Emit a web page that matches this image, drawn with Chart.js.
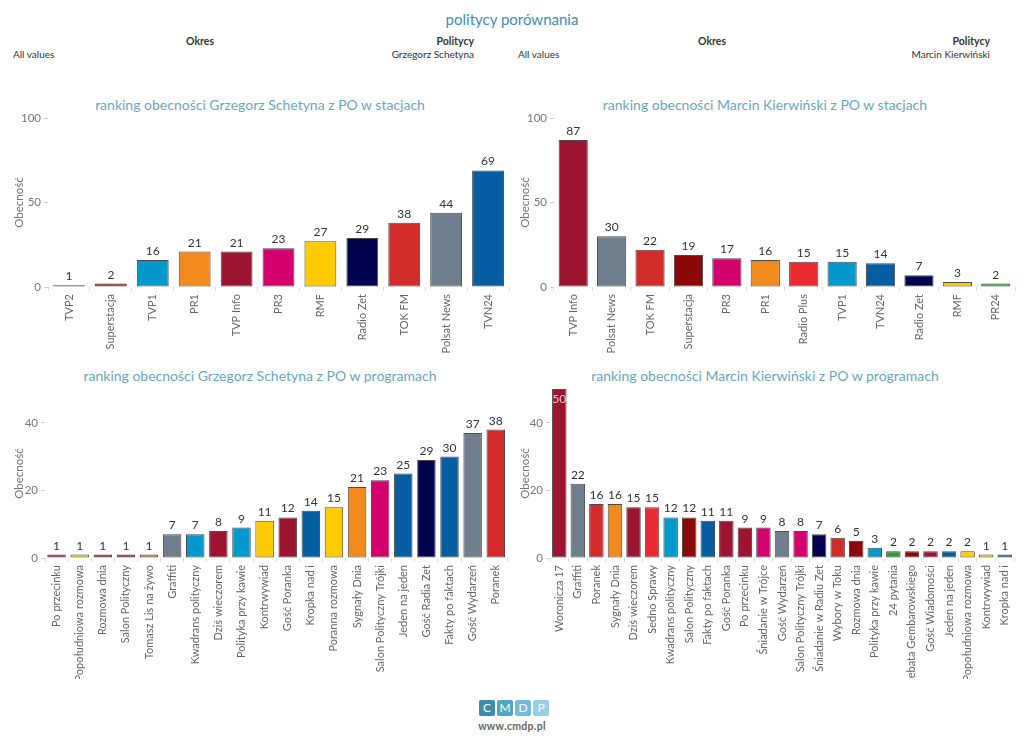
<!DOCTYPE html>
<html>
<head>
<meta charset="utf-8">
<script src="https://cdn.jsdelivr.net/npm/chart.js@4/dist/chart.umd.min.js"></script>
<style>
  body { margin: 0; background: #fff; font-family: Lato, sans-serif; }
  #page { position: relative; width: 1024px; height: 745px; overflow: hidden; }
  .abs { position: absolute; white-space: nowrap; }
  .main-title { left: 0; width: 1024px; top: 10px; text-align: center; font-size: 15px; color: #3d8fb5; }
  .hdr { font-size: 10.5px; font-weight: bold; color: #333; }
  .val { font-size: 10px; color: #333; }
  .ctitle { font-size: 14px; color: #6aa7bd; text-align: center; width: 512px; }
  canvas { position: absolute; }
  .logo { left: 479px; top: 700px; display: flex; gap: 2px; }
  .logo span { display: block; width: 16px; height: 16px; color: #fff; font-size: 12px; text-align: center; line-height: 16px; border-radius: 2px; }
  .www { left: 0; width: 1024px; top: 720px; text-align: center; font-size: 10.5px; font-weight: bold; color: #666; letter-spacing: 0.3px; }
</style>
</head>
<body>
<div id="page">
  <div class="abs main-title">politycy porównania</div>

  <div class="abs hdr" style="left:186px;top:35px;">Okres</div>
  <div class="abs val" style="left:13px;top:48px;">All values</div>
  <div class="abs hdr" style="right:550px;top:35px;">Politycy</div>
  <div class="abs val" style="right:550px;top:48px;">Grzegorz Schetyna</div>

  <div class="abs hdr" style="left:698px;top:35px;">Okres</div>
  <div class="abs val" style="left:518px;top:48px;">All values</div>
  <div class="abs hdr" style="right:34px;top:35px;">Politycy</div>
  <div class="abs val" style="right:34px;top:48px;">Marcin Kierwiński</div>

  <div class="abs ctitle" style="left:4px;top:96px;">ranking obecności Grzegorz Schetyna z PO w stacjach</div>
  <div class="abs ctitle" style="left:509px;top:96px;">ranking obecności Marcin Kierwiński z PO w stacjach</div>
  <div class="abs ctitle" style="left:4px;top:367px;">ranking obecności Grzegorz Schetyna z PO w programach</div>
  <div class="abs ctitle" style="left:509px;top:367px;">ranking obecności Marcin Kierwiński z PO w programach</div>

  <canvas id="c1" width="512" height="260" style="left:0;top:108px;"></canvas>
  <canvas id="c2" width="512" height="260" style="left:512px;top:108px;"></canvas>
  <canvas id="c3" width="512" height="300" style="left:0;top:379px;"></canvas>
  <canvas id="c4" width="512" height="300" style="left:512px;top:379px;"></canvas>

  <div class="abs logo">
    <span style="background:#3c8dab;">C</span>
    <span style="background:#56a4c3;">M</span>
    <span style="background:#74badb;">D</span>
    <span style="background:#97cfe9;">P</span>
  </div>
  <div class="abs www">www.cmdp.pl</div>
</div>

<script>
// stacje - Schetyna
const stationsSchetyna = ["TVP2", "Superstacja", "TVP1", "PR1", "TVP Info", "PR3", "RMF", "Radio Zet", "TOK FM", "Polsat News", "TVN24"];
const stationValuesSchetyna = [1, 2, 16, 21, 21, 23, 27, 29, 38, 44, 69];

// stacje - Kierwiński
const stationsKierwinski = ["TVP Info", "Polsat News", "TOK FM", "Superstacja", "PR3", "PR1", "Radio Plus", "TVP1", "TVN24", "Radio Zet", "RMF", "PR24"];
const stationValuesKierwinski = [87, 30, 22, 19, 17, 16, 15, 15, 14, 7, 3, 2];

// programy - Schetyna
const programsSchetyna = ["Po przecinku", "Popołudniowa rozmowa", "Rozmowa dnia", "Salon Polityczny", "Tomasz Lis na żywo", "Graffiti", "Kwadrans polityczny", "Dziś wieczorem", "Polityka przy kawie", "Kontrwywiad", "Gość Poranka", "Kropka nad i", "Poranna rozmowa", "Sygnały Dnia", "Salon Polityczny Trójki", "Jeden na jeden", "Gość Radia Zet", "Fakty po faktach", "Gość Wydarzeń", "Poranek"];
const programValuesSchetyna = [1, 1, 1, 1, 1, 7, 7, 8, 9, 11, 12, 14, 15, 21, 23, 25, 29, 30, 37, 38];

// programy - Kierwiński
const programsKierwinski = ["Woronicza 17", "Graffiti", "Poranek", "Sygnały Dnia", "Dziś wieczorem", "Sedno Sprawy", "Kwadrans polityczny", "Salon Polityczny", "Fakty po faktach", "Gość Poranka", "Po przecinku", "Śniadanie w Trójce", "Gość Wydarzeń", "Salon Polityczny Trójki", "Śniadanie w Radiu Zet", "Wybory w Toku", "Rozmowa dnia", "Polityka przy kawie", "24 pytania", "Debata Gembarowskiego", "Gość Wiadomości", "Jeden na jeden", "Popołudniowa rozmowa", "Kontrwywiad", "Kropka nad i"];
const programValuesKierwinski = [50, 22, 16, 16, 15, 15, 12, 12, 11, 11, 9, 9, 8, 8, 7, 6, 5, 3, 2, 2, 2, 2, 2, 1, 1];

// kolory stacji
const crimson = "#9c1430", darkRed = "#8d0909", red = "#d32a2a", brightRed = "#ea2b31",
      orange = "#f28b1f", tvp2 = "#d06a2c", yellow = "#fecb00", lightBlue = "#0399cc",
      blue = "#045ea1", navy = "#03034f", magenta = "#d4006d", gray = "#6f7f8e", green = "#2c9a35";

const colors1 = [tvp2, darkRed, lightBlue, orange, crimson, magenta, yellow, navy, red, gray, blue];
const colors2 = [crimson, gray, red, darkRed, magenta, orange, brightRed, lightBlue, blue, navy, yellow, green];
const colors3 = [crimson, yellow, darkRed, darkRed, tvp2, gray, lightBlue, crimson, lightBlue, yellow, crimson, blue, yellow, orange, magenta, blue, navy, blue, gray, red];
const colors4 = [crimson, gray, red, orange, crimson, brightRed, lightBlue, darkRed, blue, crimson, crimson, magenta, gray, magenta, navy, red, darkRed, lightBlue, green, darkRed, crimson, blue, yellow, yellow, blue];

const FONT = 'Lato, sans-serif';

// wartości nad słupkami
const valueLabels = {
  id: "valueLabels",
  afterDatasetsDraw(chart) {
    const ctx = chart.ctx;
    const meta = chart.getDatasetMeta(0);
    const data = chart.data.datasets[0].data;
    ctx.save();
    ctx.font = "12px " + FONT;
    ctx.textAlign = "center";
    ctx.textBaseline = "alphabetic";
    meta.data.forEach((bar, i) => {
      let y = bar.y - 5;
      ctx.fillStyle = "#333";
      if (y - 11 < chart.chartArea.top) {
        y = bar.y + 14;
        ctx.fillStyle = "#f2c4cc";
      }
      ctx.fillText(data[i], bar.x, y);
    });
    ctx.restore();
  }
};

function makeChart(id, labels, values, colors, cfg) {
  return new Chart(document.getElementById(id), {
    type: "bar",
    data: {
      labels: labels,
      datasets: [{
        data: values,
        backgroundColor: colors,
        borderColor: "#4a4a4a",
        borderWidth: 1,
        borderSkipped: false,
        categoryPercentage: 1,
        barPercentage: cfg.barPct
      }]
    },
    options: {
      responsive: false,
      animation: false,
      layout: { padding: { top: 10, right: cfg.padRight, left: 0, bottom: 0 } },
      plugins: { legend: { display: false }, tooltip: { enabled: false } },
      scales: {
        x: {
          grid: { drawOnChartArea: false, tickLength: 4, color: "#dcdcdc" },
          border: { display: false },
          ticks: {
            autoSkip: false, minRotation: 90, maxRotation: 90, padding: 3,
            color: "#666", font: { family: FONT, size: 11 }
          },
          afterFit(scale) { scale.height = cfg.xHeight; }
        },
        y: {
          min: 0, max: cfg.max,
          grid: { drawOnChartArea: false, tickLength: 4, color: "#cfcfcf" },
          border: { display: false },
          ticks: { stepSize: cfg.step, padding: 3, color: "#777", font: { family: FONT, size: 11.5 } },
          afterBuildTicks(scale) { scale.ticks = scale.ticks.filter(t => t.value % cfg.step === 0); },
          title: { display: true, text: "Obecność", color: "#777", font: { family: FONT, size: 11.5 }, padding: { top: cfg.titlePad, bottom: 0 } },
          afterFit(scale) { scale.width = cfg.yWidth; }
        }
      }
    },
    plugins: [valueLabels]
  });
}

makeChart("c1", stationsSchetyna, stationValuesSchetyna, colors1,
  { max: 100, step: 50, barPct: 0.76, yWidth: 48, xHeight: 81, padRight: 3, titlePad: 12 });
makeChart("c2", stationsKierwinski, stationValuesKierwinski, colors2,
  { max: 100, step: 50, barPct: 0.76, yWidth: 42, xHeight: 81, padRight: 9, titlePad: 6 });
makeChart("c3", programsSchetyna, programValuesSchetyna, colors3,
  { max: 50, step: 20, barPct: 0.8, yWidth: 45, xHeight: 121, padRight: 2, titlePad: 12 });
makeChart("c4", programsKierwinski, programValuesKierwinski, colors4,
  { max: 50, step: 20, barPct: 0.78, yWidth: 38, xHeight: 121, padRight: 10, titlePad: 6 });
</script>
</body>
</html>
